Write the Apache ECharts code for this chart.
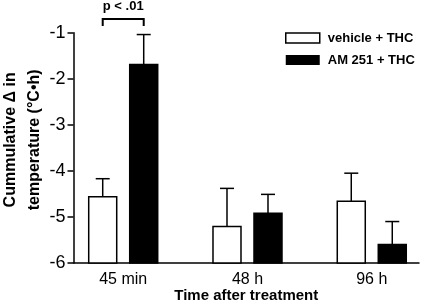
<!DOCTYPE html>
<html>
<head>
<meta charset="utf-8">
<script src="https://cdn.jsdelivr.net/npm/echarts@6/dist/echarts.min.js"></script>
<style>
html, body { margin: 0; padding: 0; background: #fff; }
#chart { width: 423px; height: 304px; }
</style>
</head>
<body>
<div id="chart"></div>
<script>
// data
const categories = ['45 min', '48 h', '96 h']
const seriesNames = ['vehicle + THC', 'AM 251 + THC']
const vehicleMean = [-4.56, -5.21, -4.66]
const vehicleSem = [0.39, 0.83, 0.61]
const am251Mean = [-1.69, -4.92, -5.60]
const am251Sem = [0.65, 0.41, 0.50]
const yTicks = [-6, -5, -4, -3, -2, -1]
const pLabel = 'p < .01'

const FONT = '"Liberation Sans", Arial, Helvetica, sans-serif'
const yMin = yTicks[0]
const yMax = yTicks[yTicks.length - 1]

// layout of the groups on a value x axis
const GROUP_START = 2
const GROUP_STEP = 5
const BAR_WIDTH = 28
const BAR_SHIFT = 20.5
const CAP_WIDTH = 14

const groupX = (i) => GROUP_START + i * GROUP_STEP

function barSeries(name, means, sems, side, fill) {
  return {
    name,
    type: 'custom',
    data: means.map((m, i) => [groupX(i), m, sems[i]]),
    itemStyle: { color: fill, borderColor: '#000', borderWidth: 1.5 },
    renderItem: (params, api) => {
      const x = api.value(0)
      const mean = api.value(1)
      const sem = api.value(2)
      const top = api.coord([x, mean])
      const base = api.coord([x, yMin])
      const cap = api.coord([x, mean + sem])
      const cx = top[0] + side * BAR_SHIFT
      const stroke = { stroke: '#000', lineWidth: 1.5 }
      return {
        type: 'group',
        children: [
          { type: 'line', shape: { x1: cx, y1: top[1], x2: cx, y2: cap[1] }, style: stroke },
          { type: 'line', shape: { x1: cx - CAP_WIDTH / 2, y1: cap[1], x2: cx + CAP_WIDTH / 2, y2: cap[1] }, style: stroke },
          {
            type: 'rect',
            shape: { x: cx - BAR_WIDTH / 2, y: top[1], width: BAR_WIDTH, height: base[1] - top[1] },
            style: { fill: fill, stroke: '#000', lineWidth: 1.5 },
          },
        ],
      }
    },
  }
}

const chart = echarts.init(document.getElementById('chart'), null, { renderer: 'canvas' })

chart.setOption({
  animation: false,
  backgroundColor: '#fff',
  grid: { left: 73.5, right: 4, top: 32.7, bottom: 41, containLabel: false, outerBoundsMode: 'none' },
  legend: {
    orient: 'vertical',
    left: 280,
    top: 26,
    itemWidth: 34,
    itemHeight: 10,
    itemGap: 8,
    textStyle: { fontFamily: FONT, fontSize: 13, fontWeight: 'bold', color: '#000', lineHeight: 14, padding: [0, 0, 0, 3] },
    data: [
      { name: seriesNames[0], icon: 'rect', itemStyle: { color: '#fff', borderColor: '#000', borderWidth: 1.5 } },
      { name: seriesNames[1], icon: 'rect', itemStyle: { color: '#000', borderColor: '#000', borderWidth: 0 } },
    ],
  },
  xAxis: {
    type: 'value',
    min: 0,
    max: 13.9,
    splitLine: { show: false },
    axisLine: { lineStyle: { color: '#000', width: 1.5 } },
    axisTick: { show: false },
    axisLabel: {
      customValues: categories.map((c, i) => groupX(i)),
      formatter: (v) => categories[Math.round((v - GROUP_START) / GROUP_STEP)] || '',
      fontFamily: FONT,
      fontSize: 16,
      color: '#000',
      margin: 9,
    },
    name: 'Time after treatment',
    nameLocation: 'middle',
    nameGap: 25,
    nameMoveOverlap: false,
    nameTextStyle: { fontFamily: FONT, fontSize: 15, fontWeight: 'bold', color: '#000' },
  },
  yAxis: {
    type: 'value',
    min: yMin,
    max: yMax,
    interval: 1,
    splitLine: { show: false },
    axisLine: { show: true, lineStyle: { color: '#000', width: 1.5 } },
    axisTick: { show: true, length: 6, lineStyle: { color: '#000', width: 1.5 } },
    axisLabel: { fontFamily: FONT, fontSize: 18, color: '#000', margin: 8 },
    name: 'Cummulative \u0394 in\ntemperature (\u00B0C\u2022h)',
    nameLocation: 'middle',
    nameRotate: 90,
    nameGap: 27,
    nameMoveOverlap: false,
    nameTextStyle: {
      fontFamily: FONT, fontSize: 16, fontWeight: 'bold', color: '#000',
      lineHeight: 24, padding: [0, 0, 0, 16],
    },
  },
  series: [
    barSeries(seriesNames[0], vehicleMean, vehicleSem, -1, '#fff'),
    barSeries(seriesNames[1], am251Mean, am251Sem, 1, '#000'),
  ],
})

// significance bracket over the first group
const bracketTop = -0.70
const bracketFoot = -0.855
const pLabelY = -0.44
const a = chart.convertToPixel({ gridIndex: 0 }, [groupX(0), bracketTop])
const b = chart.convertToPixel({ gridIndex: 0 }, [groupX(0), bracketFoot])
const t = chart.convertToPixel({ gridIndex: 0 }, [groupX(0), pLabelY])
const xl = a[0] - BAR_SHIFT
const xr = a[0] + BAR_SHIFT

chart.setOption({
  graphic: [
    {
      type: 'polyline',
      shape: { points: [[xl, b[1]], [xl, a[1]], [xr, a[1]], [xr, b[1]]] },
      style: { stroke: '#000', lineWidth: 2, fill: null },
    },
    {
      type: 'text',
      x: t[0],
      y: t[1],
      style: { text: pLabel, fontFamily: FONT, fontSize: 13, fontWeight: 'bold', fill: '#000', align: 'center', verticalAlign: 'middle' },
    },
  ],
})

window.addEventListener('resize', () => chart.resize())
</script>
</body>
</html>
